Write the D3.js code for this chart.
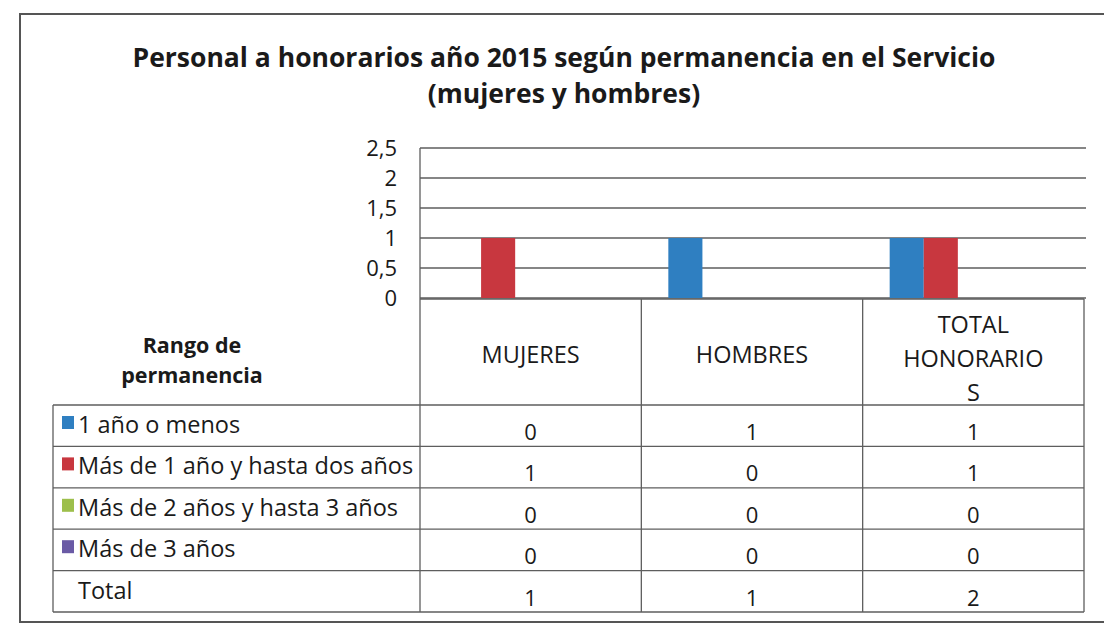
<!DOCTYPE html>
<html>
<head>
<meta charset="utf-8">
<script src="https://cdn.jsdelivr.net/npm/d3@7"></script>
<style>
  html, body { margin: 0; padding: 0; background: #fff; }
  svg { display: block; }
  text { font-family: "Open Sans", Lato, sans-serif; fill: #1a1a1a; }
</style>
</head>
<body>
<svg id="chart" width="1104" height="629"></svg>
<script>
// ---- data ----
const categories = ["MUJERES", "HOMBRES", "TOTAL HONORARIOS"];
const categoryLines = [["MUJERES"], ["HOMBRES"], ["TOTAL", "HONORARIO", "S"]];
const series = ["1 año o menos", "Más de 1 año y hasta dos años", "Más de 2 años y hasta 3 años", "Más de 3 años"];
const seriesColors = ["#2f7fc1", "#c8373f", "#9dbf4b", "#6a5aa5"];
const values = [
  [0, 1, 1],
  [1, 0, 1],
  [0, 0, 0],
  [0, 0, 0]
];
const totals = [1, 1, 2];
const yTicks = [0, 0.5, 1, 1.5, 2, 2.5];
const titleLines = ["Personal a honorarios año 2015 según permanencia en el Servicio", "(mujeres y hombres)"];
const tableHeader = ["Rango de", "permanencia"];

// ---- layout ----
const svg = d3.select("#chart");
const plotLeft = 420, plotRight = 1084, gridRight = 1086;
const y = d3.scaleLinear().domain([0, 2.5]).range([298, 148]);
const x = d3.scaleBand().domain(categories).range([plotLeft, plotRight]).padding(0);
const bw = x.bandwidth();
const xs = d3.scaleBand().domain(series).range([bw * 0.122, bw * 0.738]).padding(0);
const lineColor = "#5e5e5e";

svg.append("rect").attr("width", 1104).attr("height", 629).attr("fill", "#fff");

// outer frame
svg.append("rect").attr("x", 20).attr("y", 14).attr("width", 1110).attr("height", 608)
  .attr("fill", "none").attr("stroke", "#555").attr("stroke-width", 2);

// title
svg.append("g").selectAll("text").data(titleLines).join("text")
  .attr("x", 564).attr("y", (d, i) => 67 + i * 36)
  .attr("text-anchor", "middle").attr("font-weight", "bold").attr("font-size", 26.5)
  .text(d => d);

// gridlines
svg.append("g").selectAll("line").data(yTicks).join("line")
  .attr("x1", plotLeft).attr("x2", gridRight)
  .attr("y1", d => y(d)).attr("y2", d => y(d))
  .attr("stroke", lineColor).attr("stroke-width", 1.3);

// y axis labels
const fmt = d => String(d).replace(".", ",");
const yAxis = d3.axisLeft(y).tickValues(yTicks).tickFormat(fmt).tickSize(0).tickPadding(0);
const ya = svg.append("g").attr("transform", "translate(397,0)").call(yAxis);
ya.select(".domain").remove();
ya.selectAll("text").attr("font-size", 22).attr("font-family", "'Open Sans', sans-serif").attr("fill", "#1a1a1a");

// left plot border
svg.append("line").attr("x1", plotLeft).attr("x2", plotLeft).attr("y1", y(2.5)).attr("y2", 612)
  .attr("stroke", lineColor).attr("stroke-width", 1.3);

// bars
const barData = [];
series.forEach((s, si) => categories.forEach((c, ci) => barData.push({ s, si, c, v: values[si][ci] })));
svg.append("g").selectAll("rect").data(barData.filter(d => d.v > 0)).join("rect")
  .attr("x", d => x(d.c) + xs(d.s))
  .attr("width", xs.bandwidth())
  .attr("y", d => y(d.v))
  .attr("height", d => y(0) - y(d.v))
  .attr("fill", d => seriesColors[d.si]);

// ---- data table ----
const headerTop = 299, headerBottom = 405, rowH = 41.4, tableLeft = 53;
const rowLabels = series.concat(["Total"]);
const rowYs = d3.range(rowLabels.length + 1).map(i => headerBottom + i * rowH);
const tg = svg.append("g");

tg.append("line").attr("x1", plotLeft).attr("x2", plotRight).attr("y1", headerTop).attr("y2", headerTop)
  .attr("stroke", lineColor).attr("stroke-width", 1.3);
tg.selectAll("line.row").data(rowYs).join("line").attr("class", "row")
  .attr("x1", tableLeft).attr("x2", plotRight).attr("y1", d => d).attr("y2", d => d)
  .attr("stroke", lineColor).attr("stroke-width", 1.3);
const vxs = categories.map(c => x(c) + bw);
tg.selectAll("line.col").data(vxs).join("line").attr("class", "col")
  .attr("x1", d => d).attr("x2", d => d).attr("y1", headerTop).attr("y2", rowYs[rowYs.length - 1])
  .attr("stroke", lineColor).attr("stroke-width", 1.3);
tg.append("line").attr("x1", tableLeft).attr("x2", tableLeft).attr("y1", headerBottom).attr("y2", rowYs[rowYs.length - 1])
  .attr("stroke", lineColor).attr("stroke-width", 1.3);

// header labels
categories.forEach((c, ci) => {
  const lines = categoryLines[ci];
  const lh = 34;
  const base = lines.length === 1 ? 363 : 333;
  tg.selectAll(null).data(lines).join("text")
    .attr("x", x(c) + bw / 2)
    .attr("y", (d, i) => base + i * lh)
    .attr("text-anchor", "middle").attr("font-size", 23.5)
    .text(d => d);
});
tg.selectAll(null).data(tableHeader).join("text")
  .attr("x", 192).attr("y", (d, i) => 353 + i * 30)
  .attr("text-anchor", "middle").attr("font-size", 21.5).attr("font-weight", "bold")
  .text(d => d);

// row labels + legend keys
rowLabels.forEach((r, ri) => {
  const top = rowYs[ri];
  if (ri < series.length) {
    tg.append("rect").attr("x", 62).attr("y", top + 11).attr("width", 12).attr("height", 13)
      .attr("fill", seriesColors[ri]);
  }
  tg.append("text").attr("x", 78).attr("y", top + 28).attr("font-size", 23.5).text(r);
  const rowVals = ri < series.length ? values[ri] : totals;
  categories.forEach((c, ci) => {
    tg.append("text").attr("x", x(c) + bw / 2).attr("y", top + 35)
      .attr("text-anchor", "middle").attr("font-size", 22).text(rowVals[ci]);
  });
});
</script>
</body>
</html>
